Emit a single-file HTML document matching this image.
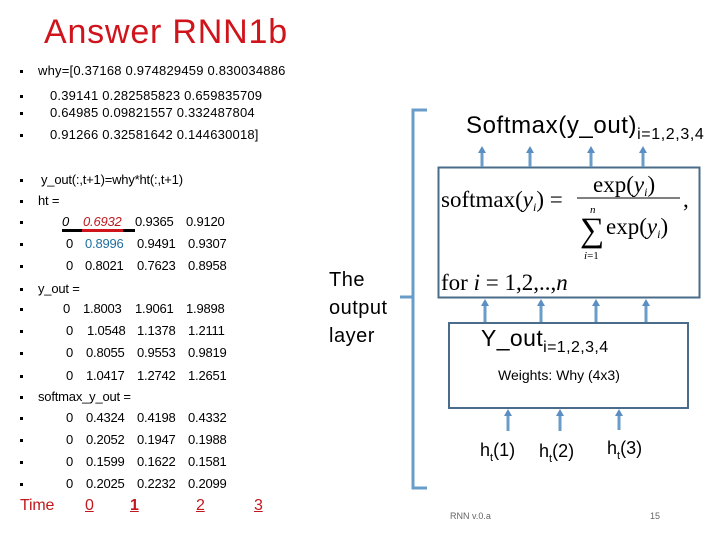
<!DOCTYPE html>
<html><head><meta charset="utf-8"><style>
body{margin:0;background:#fff;width:720px;height:540px;overflow:hidden;position:relative;font-family:"Liberation Sans",sans-serif}
.t{position:absolute;font-size:13px;letter-spacing:-0.2px;color:#000;white-space:pre;line-height:14px}
.b{position:absolute;left:20px;width:3px;height:3px;background:#000}
</style></head><body>
<div style="position:absolute;left:44px;top:12px;font-size:34px;color:#d0141c;letter-spacing:0.8px;line-height:40px">Answer RNN1b</div>

<div class="b" style="top:70px"></div><div class="t" style="left:38px;top:64px;letter-spacing:0.2px">why=[0.37168 0.974829459 0.830034886</div>
<div class="b" style="top:95px"></div><div class="t" style="left:50px;top:89px;letter-spacing:0.2px">0.39141 0.282585823 0.659835709</div>
<div class="b" style="top:112px"></div><div class="t" style="left:50px;top:106px;letter-spacing:0.2px">0.64985 0.09821557 0.332487804</div>
<div class="b" style="top:134px"></div><div class="t" style="left:50px;top:128px;letter-spacing:0.2px">0.91266 0.32581642 0.144630018]</div>

<div class="b" style="top:179px"></div><div class="t" style="left:41px;top:173px">y_out(:,t+1)=why*ht(:,t+1)</div>
<div class="b" style="top:200px"></div><div class="t" style="left:38px;top:194px">ht =</div>
<div class="b" style="top:221px"></div>
<div class="t" style="left:62px;top:215px;font-style:italic">0</div>
<div class="t" style="left:83px;top:215px;font-style:italic;color:#c0181e">0.6932</div>
<div class="t" style="left:135px;top:215px">0.9365</div><div class="t" style="left:186px;top:215px">0.9120</div>
<div style="position:absolute;left:62px;top:229px;width:73px;height:3px;background:#000"></div>
<div style="position:absolute;left:82px;top:229px;width:41px;height:3px;background:#d0141c"></div>

<div class="b" style="top:243px"></div>
<div class="t" style="left:66px;top:237px">0</div><div class="t" style="left:85px;top:237px;color:#1f6fa0">0.8996</div>
<div class="t" style="left:137px;top:237px">0.9491</div><div class="t" style="left:188px;top:237px">0.9307</div>
<div class="b" style="top:265px"></div>
<div class="t" style="left:66px;top:259px">0</div><div class="t" style="left:85px;top:259px">0.8021</div>
<div class="t" style="left:137px;top:259px">0.7623</div><div class="t" style="left:188px;top:259px">0.8958</div>
<div class="b" style="top:288px"></div><div class="t" style="left:38px;top:282px">y_out =</div>
<div class="b" style="top:308px"></div>
<div class="t" style="left:63px;top:302px">0</div><div class="t" style="left:83px;top:302px">1.8003</div>
<div class="t" style="left:135px;top:302px">1.9061</div><div class="t" style="left:186px;top:302px">1.9898</div>
<div class="b" style="top:330px"></div>
<div class="t" style="left:66px;top:324px">0</div><div class="t" style="left:87px;top:324px">1.0548</div>
<div class="t" style="left:137px;top:324px">1.1378</div><div class="t" style="left:188px;top:324px">1.2111</div>
<div class="b" style="top:352px"></div>
<div class="t" style="left:66px;top:346px">0</div><div class="t" style="left:86px;top:346px">0.8055</div>
<div class="t" style="left:137px;top:346px">0.9553</div><div class="t" style="left:188px;top:346px">0.9819</div>
<div class="b" style="top:375px"></div>
<div class="t" style="left:66px;top:369px">0</div><div class="t" style="left:86px;top:369px">1.0417</div>
<div class="t" style="left:137px;top:369px">1.2742</div><div class="t" style="left:188px;top:369px">1.2651</div>
<div class="b" style="top:396px"></div><div class="t" style="left:38px;top:390px">softmax_y_out =</div>
<div class="b" style="top:417px"></div>
<div class="t" style="left:66px;top:411px">0</div><div class="t" style="left:86px;top:411px">0.4324</div>
<div class="t" style="left:137px;top:411px">0.4198</div><div class="t" style="left:188px;top:411px">0.4332</div>
<div class="b" style="top:439px"></div>
<div class="t" style="left:66px;top:433px">0</div><div class="t" style="left:86px;top:433px">0.2052</div>
<div class="t" style="left:137px;top:433px">0.1947</div><div class="t" style="left:188px;top:433px">0.1988</div>
<div class="b" style="top:461px"></div>
<div class="t" style="left:66px;top:455px">0</div><div class="t" style="left:86px;top:455px">0.1599</div>
<div class="t" style="left:137px;top:455px">0.1622</div><div class="t" style="left:188px;top:455px">0.1581</div>
<div class="b" style="top:483px"></div>
<div class="t" style="left:66px;top:477px">0</div><div class="t" style="left:86px;top:477px">0.2025</div>
<div class="t" style="left:137px;top:477px">0.2232</div><div class="t" style="left:188px;top:477px">0.2099</div>

<div class="t" style="left:20px;top:497px;font-size:16px;line-height:18px;color:#c0181e">Time</div>
<div class="t" style="left:85px;top:497px;font-size:16px;line-height:18px;color:#c0181e;text-decoration:underline">0</div>
<div class="t" style="left:130px;top:497px;font-size:16px;line-height:18px;color:#c0181e;font-weight:bold;text-decoration:underline">1</div>
<div class="t" style="left:196px;top:497px;font-size:16px;line-height:18px;color:#c0181e;text-decoration:underline">2</div>
<div class="t" style="left:254px;top:497px;font-size:16px;line-height:18px;color:#c0181e;text-decoration:underline">3</div>

<div style="position:absolute;left:329px;top:266px;font-size:20px;line-height:28px;color:#000;letter-spacing:0.5px">The<br>output<br>layer</div>

<svg width="720" height="540" style="position:absolute;left:0;top:0" xmlns="http://www.w3.org/2000/svg">
<defs><marker id="a" markerUnits="userSpaceOnUse" markerWidth="8" markerHeight="8" refX="1" refY="4" orient="auto"><path d="M0,0L7,4L0,8z" fill="#5b8fc3"/></marker></defs>
<g stroke="#6a9cc9" stroke-width="3" fill="none">
<path d="M427,110H413V488H427"/><path d="M400,297H413"/>
</g>
<rect x="438.5" y="167.5" width="261" height="130" fill="none" stroke="#4a6b8a" stroke-width="2"/>
<rect x="449" y="323" width="239" height="85" fill="none" stroke="#4a6b8a" stroke-width="2"/>
<g stroke="#6a9cc9" stroke-width="3" marker-end="url(#a)">
<line x1="482" y1="167" x2="482" y2="152"/><line x1="530" y1="167" x2="530" y2="152"/>
<line x1="591" y1="167" x2="591" y2="152"/><line x1="643" y1="167" x2="643" y2="152"/>
<line x1="485" y1="322" x2="485" y2="305"/><line x1="541" y1="322" x2="541" y2="305"/>
<line x1="596" y1="322" x2="596" y2="305"/><line x1="646" y1="322" x2="646" y2="305"/>
<line x1="508" y1="431" x2="508" y2="415"/><line x1="560" y1="431" x2="560" y2="415"/>
<line x1="619" y1="430" x2="619" y2="415"/>
</g>
<g font-family="Liberation Serif,serif" font-size="23" fill="#000">
<text x="441" y="207">softmax(<tspan font-style="italic">y</tspan><tspan font-size="12" font-style="italic" dy="4">i</tspan><tspan dy="-4">) =</tspan></text>
<text x="593" y="192">exp(<tspan font-style="italic">y</tspan><tspan font-size="12" font-style="italic" dy="4">i</tspan><tspan dy="-4">)</tspan></text>
<line x1="577" y1="198" x2="680" y2="198" stroke="#000" stroke-width="1"/>
<text x="683" y="207">,</text>
<text x="580" y="241" font-size="34">∑</text>
<text x="590" y="213" font-size="11" font-style="italic">n</text>
<text x="584" y="259" font-size="11"><tspan font-style="italic">i</tspan>=1</text>
<text x="606" y="234">exp(<tspan font-style="italic">y</tspan><tspan font-size="12" font-style="italic" dy="4">i</tspan><tspan dy="-4">)</tspan></text>
<text x="441" y="290">for <tspan font-style="italic">i</tspan> = 1,2,..,<tspan font-style="italic">n</tspan></text>
</g>
<g font-family="Liberation Sans,sans-serif" fill="#000">
<text x="466" y="133" font-size="24" letter-spacing="0.6">Softmax(y_out)<tspan font-size="16" dy="6">i=1,2,3,4</tspan></text>
<text x="481" y="346" font-size="23" letter-spacing="0.4">Y_out<tspan font-size="16" dy="6">i=1,2,3,4</tspan></text>
<text x="498" y="380" font-size="14">Weights: Why (4x3)</text>
<text x="480" y="456" font-size="18">h<tspan font-size="11" dy="5">t</tspan><tspan dy="-5">(1)</tspan></text>
<text x="539" y="457" font-size="18">h<tspan font-size="11" dy="5">t</tspan><tspan dy="-5">(2)</tspan></text>
<text x="607" y="454" font-size="18">h<tspan font-size="11" dy="5">t</tspan><tspan dy="-5">(3)</tspan></text>
<text x="450" y="519" font-size="9" fill="#666">RNN v.0.a</text>
<text x="650" y="519" font-size="9" fill="#666">15</text>
</g>
</svg>
</body></html>
